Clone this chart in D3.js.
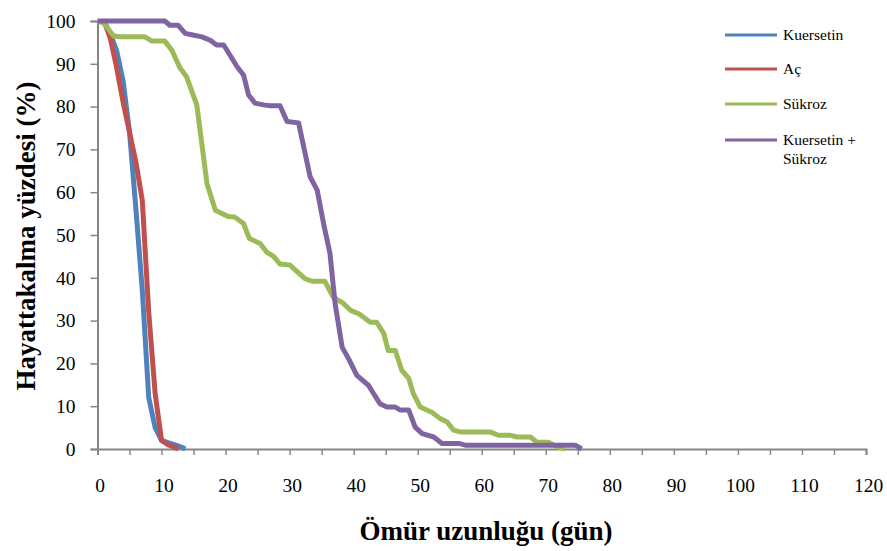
<!DOCTYPE html>
<html>
<head>
<meta charset="utf-8">
<script src="https://cdn.jsdelivr.net/npm/d3@7"></script>
<style>
  body { margin: 0; background: #fff; }
  svg { display: block; }
</style>
</head>
<body>
<script>
//Width and height
var w = 887;
var h = 551;

// data: [day, % surviving]
var kuersetin = [
  [1, 100], [2, 97], [3, 93], [4, 86], [5, 74], [6, 56], [7, 37], [8, 12],
  [9, 5], [10, 2], [11, 1.5], [12, 1], [13, 0.5], [13.7, 0],
];
var ac = [
  [1, 100], [2, 96], [3, 89], [4, 81], [5, 74], [6, 67], [7, 58], [8, 32],
  [9, 13], [10, 2], [11, 1], [12, 0.4], [12.6, 0],
];
var sukroz = [
  [0, 100], [1, 99.5], [2.5, 96.5], [3.5, 96.3], [7.4, 96.3], [8.5, 95.3],
  [10.5, 95.3], [11.6, 93.2], [12.9, 89], [13.9, 87], [15.5, 80.4], [17.1, 62],
  [18.4, 55.8], [20.4, 54.3], [21.4, 54.2], [22.8, 52.7], [23.7, 49.2],
  [25.4, 48], [26.4, 46], [27.5, 45], [28.5, 43.2], [30, 43], [32.4, 39.8],
  [33.5, 39.2], [35.5, 39.2], [36.8, 35.5], [38.4, 34], [39.5, 32.4],
  [40.8, 31.6], [42.6, 29.6], [43.6, 29.6], [44.7, 27], [45.4, 23], [46.5, 23],
  [47.5, 18.4], [48.6, 16.5], [49.3, 13], [50.4, 9.8], [52.2, 8.6], [53.5, 7.1],
  [54.6, 6.3], [55.6, 4.4], [56.6, 4], [61.3, 4], [62.6, 3.2], [64.5, 3.2],
  [65.5, 2.8], [67.6, 2.8], [68.6, 1.6], [70.4, 1.6], [71.7, 0.6], [73, 0],
];
var kuersetinSukroz = [
  [0, 100], [10.5, 100], [11.3, 99], [12.6, 99], [13.7, 97.1], [14.7, 96.8],
  [16.3, 96.3], [17.6, 95.5], [18.6, 94.4], [19.7, 94.4], [20.7, 92],
  [21.8, 89.3], [22.8, 87.4], [23.6, 82.7], [24.6, 80.8], [25.9, 80.4],
  [27, 80.2], [28.5, 80.2], [29.6, 76.5], [31.4, 76.2], [33.2, 63.6],
  [34.3, 60.5], [35.3, 52.7], [36.3, 45.7], [37.1, 34], [38.2, 23.8],
  [39.2, 21.1], [40.5, 17.2], [42.3, 14.9], [44.1, 10.6], [45.2, 9.8],
  [46.5, 9.8], [47.3, 9.1], [48.6, 9.1], [49.6, 5.1], [50.7, 3.6], [52.5, 2.8],
  [53.8, 1.3], [56.4, 1.3], [57.4, 0.9], [74.6, 0.9], [75.6, 0],
];

var seriesNames = ["Kuersetin", "Aç", "Sükroz", "Kuersetin + Sükroz"];
var seriesData = [kuersetin, ac, sukroz, kuersetinSukroz];
var colors = ["#4F81BD", "#C0504D", "#9BBB59", "#8064A2"];

var xTickValues = d3.range(0, 121, 10);
var xMinorTicks = d3.range(0, 121, 5);
var yTickValues = d3.range(0, 101, 10);

var margin = { left: 97.5, right: 21, top: 21, bottom: 102 };

var xScale = d3
  .scaleLinear()
  .domain([0, 120])
  .range([margin.left, w - margin.right]);

var yScale = d3
  .scaleLinear()
  .domain([0, 100])
  .range([h - margin.bottom, margin.top]);

//Create SVG element
var svg = d3.select("body").append("svg").attr("width", w).attr("height", h);

var font = "'Liberation Serif', 'Times New Roman', serif";
var axisColor = "#868686";

//X axis
var xAxis = svg
  .append("g")
  .attr("transform", "translate(0," + yScale(0) + ")")
  .call(
    d3.axisBottom(xScale).tickValues(xMinorTicks).tickSize(6).tickFormat("")
  );
xAxis.select(".domain").attr("stroke", axisColor).attr("stroke-width", 2);
xAxis.selectAll(".tick line").attr("stroke", axisColor).attr("stroke-width", 1.5);

svg
  .selectAll(".xlabel")
  .data(xTickValues)
  .enter()
  .append("text")
  .attr("class", "xlabel")
  .attr("x", function (d) {
    return xScale(d) + 2.5;
  })
  .attr("y", 492)
  .attr("text-anchor", "middle")
  .attr("font-family", font)
  .attr("font-size", "19.5px")
  .attr("fill", "#000")
  .text(function (d) {
    return d;
  });

//Y axis
var yAxis = svg
  .append("g")
  .attr("transform", "translate(" + xScale(0) + ",0)")
  .call(
    d3.axisLeft(yScale).tickValues(yTickValues).tickSize(7).tickPadding(15)
  );
yAxis.select(".domain").attr("stroke", axisColor).attr("stroke-width", 2);
yAxis.selectAll(".tick line").attr("stroke", axisColor).attr("stroke-width", 1.5);
yAxis
  .selectAll(".tick text")
  .attr("font-family", font)
  .attr("font-size", "19.5px")
  .attr("fill", "#000");

//Lines
var line = d3
  .line()
  .x(function (d) {
    return xScale(d[0]);
  })
  .y(function (d) {
    return yScale(d[1]);
  });

svg
  .selectAll(".series")
  .data(seriesData)
  .enter()
  .append("path")
  .attr("class", "series")
  .attr("d", line)
  .attr("fill", "none")
  .attr("stroke", function (d, i) {
    return colors[i];
  })
  .attr("stroke-width", 5)
  .attr("stroke-linejoin", "round");

//Legend
var legendY = [35, 69, 104, 140];
var legend = svg
  .selectAll(".legend")
  .data(seriesNames)
  .enter()
  .append("g")
  .attr("class", "legend")
  .attr("transform", function (d, i) {
    return "translate(725," + legendY[i] + ")";
  });

legend
  .append("line")
  .attr("x1", 0)
  .attr("x2", 52)
  .attr("stroke", function (d, i) {
    return colors[i];
  })
  .attr("stroke-width", 3);

legend
  .append("text")
  .attr("x", 58)
  .attr("font-family", font)
  .attr("font-size", "15.5px")
  .attr("fill", "#000")
  .each(function (d) {
    var parts = d === "Kuersetin + Sükroz" ? ["Kuersetin +", "Sükroz"] : [d];
    var t = d3.select(this);
    parts.forEach(function (p, j) {
      t.append("tspan")
        .attr("x", 58)
        .attr("dy", j === 0 ? "0.35em" : "1.2em")
        .text(p);
    });
  });

//Axis titles
svg
  .append("text")
  .attr("x", 486)
  .attr("y", 540)
  .attr("text-anchor", "middle")
  .attr("font-family", font)
  .attr("font-size", "27px")
  .attr("font-weight", "bold")
  .text("Ömür uzunluğu (gün)");

svg
  .append("text")
  .attr("transform", "translate(35,236) rotate(-90)")
  .attr("text-anchor", "middle")
  .attr("font-family", font)
  .attr("font-size", "27px")
  .attr("font-weight", "bold")
  .text("Hayattakalma yüzdesi (%)");
</script>
</body>
</html>
